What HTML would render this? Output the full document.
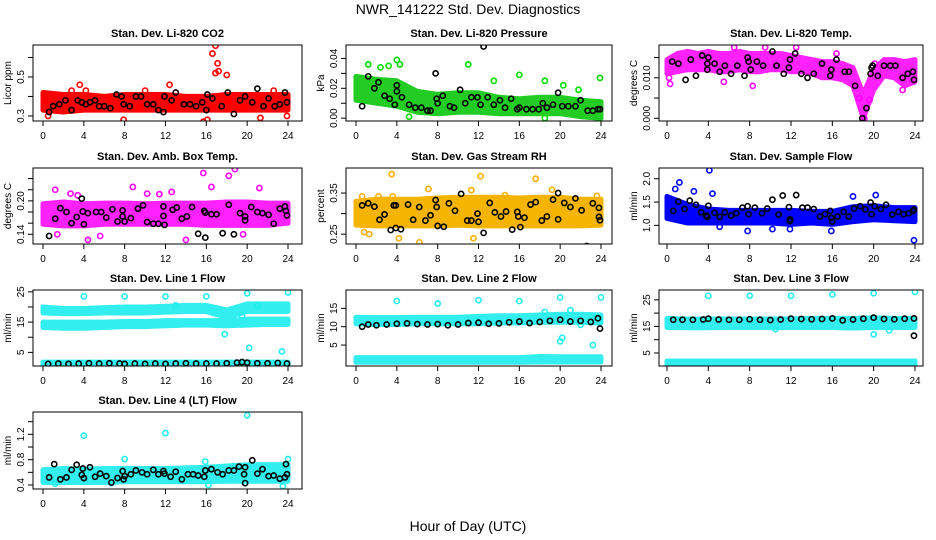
<!DOCTYPE html>
<html><head><meta charset="utf-8"><style>
body{margin:0;background:#fff}
svg{display:block;font-family:"Liberation Sans",sans-serif}
</style></head><body>
<svg id="c" width="936" height="540" viewBox="0 0 936 540">
<text x="468" y="14" text-anchor="middle" font-size="14">NWR_141222  Std. Dev. Diagnostics</text>
<text x="468" y="531" text-anchor="middle" font-size="14">Hour of Day (UTC)</text>
</svg>
<script>
// ---- data ----
const hours13=[0,2,4,6,8,10,12,14,16,18,20,22,24];
const hours25=[0,1,2,3,4,5,6,7,8,9,10,11,12,13,14,15,16,17,18,19,20,21,22,23,24];
const xTicks=[0,4,8,12,16,20,24];

const co2Lo=[0.33,0.32,0.33,0.33,0.33,0.33,0.33,0.33,0.33,0.33,0.33,0.33,0.33];
const co2Hi=[0.42,0.41,0.41,0.40,0.41,0.41,0.41,0.40,0.40,0.41,0.41,0.41,0.41];
const co2Out=[[16.6,0.62],[16.9,0.66],[17.1,0.57],[16.9,0.52],[17.2,0.53],[18,0.51],[3.6,0.46],[12.4,0.46],[4.2,0.43],[2.8,0.43],[15.7,0.27],[16.1,0.28],[7.9,0.28],[0.5,0.30],[21.3,0.29],[23.9,0.30],[22.6,0.43],[10,0.43]];
const co2Blk=[[0.6,0.32],[1,0.35],[1.6,0.36],[2.2,0.38],[2.8,0.33],[3.4,0.38],[3.8,0.37],[4.2,0.36],[4.6,0.37],[5.1,0.38],[5.5,0.35],[6,0.35],[6.6,0.34],[7.2,0.41],[7.7,0.40],[7.9,0.36],[8.5,0.35],[9.1,0.40],[9.6,0.40],[10.2,0.36],[10.8,0.36],[11.3,0.33],[11.8,0.32],[11.9,0.40],[12.6,0.38],[13,0.42],[13.8,0.36],[14.4,0.36],[15,0.35],[15.6,0.37],[16,0.33],[16.1,0.41],[16.6,0.39],[17.5,0.35],[18.1,0.42],[18.7,0.31],[19.3,0.38],[19.8,0.40],[20.5,0.37],[21,0.44],[21.6,0.35],[22.1,0.39],[22.7,0.35],[23.2,0.36],[23.7,0.42],[23.9,0.37]];

const presLo=[0.012,0.010,0.008,0.004,0.003,0.004,0.004,0.003,0.003,0.003,0.003,0.001,0.000];
const presHi=[0.028,0.026,0.025,0.018,0.016,0.017,0.017,0.014,0.013,0.014,0.014,0.012,0.011];
const presOut=[[1.2,0.036],[2.4,0.034],[3.2,0.035],[4,0.039],[4.3,0.036],[11,0.036],[16,0.029],[18.5,0.025],[23.9,0.027],[13.5,0.025],[20.3,0.022],[21.8,0.019],[18.5,0.000],[5.2,0.001]];
const presBlk=[[0.6,0.008],[1.2,0.028],[1.8,0.020],[2.2,0.024],[2.8,0.015],[3.3,0.013],[3.8,0.009],[4,0.022],[4,0.018],[4.5,0.014],[5.2,0.009],[5.8,0.007],[6.4,0.007],[7,0.005],[7.3,0.005],[7.8,0.030],[7.9,0.013],[8,0.010],[8.5,0.015],[9.2,0.008],[9.6,0.007],[10.2,0.019],[10.7,0.010],[11.3,0.014],[11.9,0.014],[12.2,0.009],[12.5,0.048],[12.9,0.014],[13.5,0.009],[14.1,0.012],[14.6,0.007],[15.2,0.013],[15.8,0.006],[16,0.007],[16.7,0.006],[17.3,0.006],[17.9,0.006],[18.3,0.010],[18.7,0.007],[19.3,0.009],[19.8,0.017],[20.2,0.008],[20.8,0.008],[21.5,0.008],[22,0.012],[22.7,0.005],[23.2,0.005],[23.7,0.006],[23.9,0.006]];

const tempHi=[0.0145,0.016,0.0165,0.016,0.0165,0.016,0.016,0.0165,0.016,0.016,0.016,0.016,0.0155,0.015,0.0145,0.014,0.014,0.0135,0.0125,0.006,0.012,0.0145,0.0145,0.014,0.0145];
const tempLo=[0.011,0.0115,0.012,0.012,0.012,0.0115,0.0115,0.012,0.0115,0.0115,0.012,0.012,0.0115,0.0115,0.011,0.010,0.010,0.0095,0.008,0.000,0.007,0.0105,0.010,0.008,0.009];
const tempOut=[[0.3,0.0085],[0.2,0.010],[5.5,0.009],[8.3,0.008],[6.5,0.0175],[9.5,0.0175],[12.5,0.0175],[16.4,0.016],[18.6,0.005],[19.1,0.000],[19.6,0.0045],[22.8,0.007],[20.1,0.0135]];
const tempBlk=[[0.5,0.014],[1.1,0.0135],[1.8,0.0095],[2.3,0.0145],[2.8,0.0105],[3.4,0.0155],[3.9,0.012],[3.9,0.0135],[4,0.0150],[4.6,0.0135],[5.1,0.0115],[5.6,0.013],[6.2,0.011],[6.8,0.013],[7.5,0.0105],[7.8,0.015],[7.9,0.014],[8.1,0.012],[8.7,0.014],[9.3,0.013],[10.2,0.0165],[10.6,0.013],[11.3,0.011],[11.8,0.0125],[11.9,0.0145],[12.4,0.016],[13,0.011],[13.6,0.010],[14.2,0.011],[15,0.0135],[15.8,0.0105],[15.9,0.012],[16.4,0.0145],[17.2,0.0115],[17.6,0.0115],[18.2,0.0080],[18.9,0.000],[19.3,0.0025],[19.7,0.011],[19.8,0.0125],[19.9,0.013],[20.4,0.0105],[21,0.013],[21.6,0.013],[22.1,0.013],[22.8,0.010],[23.3,0.011],[23.8,0.0115],[23.9,0.0095]];

const ambLo=[0.158,0.155,0.155,0.158,0.158,0.158,0.158,0.158,0.156,0.156,0.156,0.156,0.16];
const ambHi=[0.195,0.198,0.195,0.196,0.196,0.195,0.196,0.196,0.196,0.198,0.198,0.196,0.196];
const ambOut=[[1.2,0.22],[2.7,0.213],[3.4,0.21],[4.4,0.13],[5.6,0.137],[8.8,0.225],[12.6,0.216],[14,0.13],[15.7,0.25],[16.5,0.225],[18.2,0.245],[18.8,0.257],[21.2,0.223],[19.6,0.14],[10.2,0.213],[11.4,0.212],[1.4,0.14]];
const ambBlk=[[0.6,0.137],[1.2,0.168],[1.7,0.187],[2.3,0.180],[2.8,0.160],[3.3,0.171],[3.8,0.204],[3.9,0.181],[4.0,0.158],[4.4,0.178],[5.2,0.180],[5.7,0.180],[6.2,0.170],[6.8,0.185],[7.3,0.163],[7.8,0.183],[7.8,0.172],[8.0,0.163],[8.6,0.169],[9.3,0.186],[9.8,0.192],[10.2,0.162],[10.8,0.159],[11.3,0.159],[11.8,0.190],[11.8,0.173],[11.9,0.157],[12.7,0.184],[13.1,0.188],[13.6,0.168],[14.1,0.172],[14.6,0.189],[15.2,0.141],[15.8,0.182],[15.9,0.179],[15.9,0.134],[16.5,0.176],[17,0.176],[17.6,0.142],[18.2,0.193],[18.7,0.140],[19.3,0.178],[19.8,0.172],[19.8,0.165],[20.4,0.189],[21,0.180],[21.5,0.178],[22.1,0.175],[22.6,0.159],[23.2,0.186],[23.7,0.190],[23.8,0.182],[23.9,0.174]];

const rhLo=[0.272,0.27,0.27,0.27,0.27,0.272,0.27,0.27,0.27,0.27,0.27,0.27,0.272];
const rhHi=[0.33,0.335,0.335,0.335,0.338,0.34,0.34,0.34,0.338,0.34,0.34,0.335,0.335];
const rhOut=[[0.6,0.342],[2.2,0.342],[3.5,0.396],[3.6,0.342],[6.2,0.23],[7.1,0.36],[11.3,0.357],[12.2,0.391],[14.6,0.345],[17.6,0.385],[19.2,0.358],[11.5,0.24],[4.2,0.24],[0.8,0.255],[23.6,0.343],[1.3,0.25]];
const rhBlk=[[0.6,0.32],[1.2,0.325],[1.8,0.317],[2.3,0.285],[2.8,0.298],[3.4,0.26],[3.7,0.32],[3.9,0.32],[3.9,0.265],[4.4,0.262],[5.1,0.322],[5.6,0.285],[6.2,0.316],[6.8,0.283],[7.3,0.296],[7.8,0.333],[7.9,0.316],[8,0.27],[8.6,0.268],[9.1,0.325],[9.7,0.307],[10.3,0.348],[10.9,0.283],[11.3,0.283],[11.9,0.30],[12,0.28],[12.5,0.253],[13.1,0.326],[13.6,0.303],[14.2,0.293],[14.7,0.305],[15.3,0.261],[15.8,0.304],[15.9,0.293],[16.1,0.267],[16.5,0.29],[17.1,0.322],[17.6,0.328],[18.2,0.283],[18.7,0.293],[19.3,0.334],[19.8,0.35],[19.8,0.286],[20.4,0.326],[21,0.316],[21.5,0.337],[22.1,0.308],[22.6,0.221],[23.2,0.325],[23.8,0.314],[23.8,0.292],[23.9,0.284]];

const sfLo=[1.15,1.05,1.05,1.05,1.05,1.05,1.02,1.05,1.02,1.08,1.12,1.10,1.08];
const sfHi=[1.62,1.45,1.35,1.32,1.32,1.32,1.32,1.30,1.30,1.40,1.42,1.38,1.38];
const sfOut=[[0.8,1.78],[1.2,1.92],[2.6,1.73],[4.1,2.18],[4.4,1.68],[7.8,0.88],[11.9,0.92],[15.9,0.88],[20.2,1.65],[23.9,0.68],[5.1,0.97],[10.2,0.92],[18,1.62]];
const sfBlk=[[0.6,1.31],[1.1,1.51],[1.7,1.35],[2.2,1.53],[2.8,1.44],[3.3,1.28],[3.8,1.21],[3.9,1.18],[4,1.42],[4.6,1.27],[5.1,1.18],[5.6,1.28],[6.2,1.21],[6.7,1.26],[7.3,1.38],[7.8,1.41],[7.9,1.24],[8.5,1.38],[9.2,1.26],[9.7,1.36],[10.2,1.55],[10.8,1.23],[11.2,1.64],[11.8,1.39],[11.9,1.13],[11.9,1.09],[12.5,1.65],[13.1,1.38],[13.6,1.38],[14.2,1.35],[14.8,1.19],[15.3,1.24],[15.8,1.31],[15.9,1.16],[16,1.08],[16.5,1.19],[17.1,1.29],[17.6,1.19],[18.1,1.36],[18.7,1.41],[19.2,1.34],[19.7,1.49],[19.8,1.24],[20.1,1.41],[20.7,1.35],[21.2,1.44],[21.8,1.23],[22.4,1.29],[22.9,1.24],[23.4,1.26],[23.8,1.31],[23.9,1.34]];

const l1UpLo=[18,17.8,17.8,18,18,18,18.3,18.5,18.5,16.5,18.5,18.5,18.5];
const l1UpHi=[20,19.5,19.5,19.8,20,20,20.2,20.5,20.5,19,21,21,21];
const l1MidLo=[13.2,13,13,13.2,13.5,13.5,13.8,14,14,13.8,14,14.2,14.2];
const l1MidHi=[15,15,15,15,15.2,15.2,15.5,15.5,15.5,15.5,16,16,16];
const l1BotLo=[0.6,0.6,0.6,0.6,0.6,0.6,0.6,0.6,0.6,0.6,0.6,0.6,0.6];
const l1BotHi=[1.8,1.8,1.8,1.8,1.8,1.8,1.8,1.8,1.8,1.8,1.8,1.8,1.8];
const l1Out=[[4,23.5],[8,23.5],[12,23.5],[16,23.5],[20,24.5],[24,24.8],[17.8,11],[20.2,6.5],[23.4,5.3],[19.5,17],[13,20.5],[21,20.5]];
const l1Blk=[[0.5,1.2],[1.5,1.3],[2.5,1.2],[3.5,1.3],[4.5,1.4],[5.5,1.3],[6.5,1.4],[7.5,1.3],[8,1.2],[9,1.3],[10,1.2],[11,1.3],[12,1.2],[13,1.3],[14,1.4],[15,1.3],[16,1.3],[17,1.3],[18,1.4],[19,1.6],[19.5,1.8],[20,1.6],[21,1.4],[22,1.4],[23,1.5],[23.9,1.3]];

const l2UpLo=[10.8,10.6,10.6,10.8,10.8,10.8,10.8,11,11,11.2,11.2,11.2,11];
const l2UpHi=[12.6,12.5,12.5,12.6,12.6,12.6,12.8,13,13,13.2,13.4,13.4,13.2];
const l2BotLo=[0.3,0.3,0.3,0.3,0.3,0.3,0.3,0.3,0.3,0.4,0.4,0.4,0.4];
const l2BotHi=[1.6,1.6,1.6,1.6,1.6,1.6,1.6,1.6,1.6,1.9,1.8,1.8,1.8];
const l2Out=[[4,17],[8,16.3],[12,17.2],[16,17],[20,18],[24,18],[20,6],[20.2,7],[23.2,5],[18.5,14],[21,14.5],[22,10.5]];
const l2Blk=[[0.6,10],[1.2,10.6],[2,10.4],[3,10.6],[4,10.8],[5,10.9],[6,10.7],[7,10.6],[8,10.7],[9,10.4],[10,10.6],[11,11],[12,11.1],[13,10.8],[14,10.9],[15,11.2],[16,11.4],[17,11],[18,11.3],[19,11.6],[20,11.9],[21,11.4],[22,11.6],[23,11.3],[23.7,12.3],[23.9,9.5]];

const l3UpLo=[14.6,14.5,14.5,14.6,14.6,14.6,14.6,14.6,14.6,14.4,14.6,14.6,14.6];
const l3UpHi=[18,17.8,17.8,17.8,17.8,17.8,17.8,18,18,18,18.2,18,18];
const l3BotLo=[0.5,0.5,0.5,0.5,0.5,0.5,0.5,0.5,0.5,0.5,0.5,0.5,0.5];
const l3BotHi=[2,2,2,2,2,2,2,2,2,2,2,2,2];
const l3Out=[[4,26.5],[8,26.5],[12,26.5],[16,27],[20,27.5],[24,28],[20,12],[21.5,13.5],[10.5,14]];
const l3Blk=[[0.6,17.5],[1.5,17.5],[2.5,17.5],[3.5,17.6],[4,17.9],[5,17.6],[6,17.5],[7,17.5],[8,17.7],[9,17.5],[10,17.4],[11,17.6],[12,17.9],[13,17.8],[14,17.7],[15,17.8],[16,18],[17,17.3],[18,17.6],[19,17.9],[20,18.3],[21,17.8],[22,17.7],[23,17.9],[23.9,18],[23.9,11.5]];

const l4Lo=[0.44,0.44,0.44,0.44,0.45,0.45,0.45,0.45,0.45,0.46,0.46,0.46,0.46];
const l4Hi=[0.64,0.66,0.65,0.66,0.66,0.66,0.66,0.67,0.68,0.70,0.72,0.72,0.72];
const l4Out=[[4,1.18],[12,1.22],[20,1.5],[8,0.81],[24,0.81],[15.9,0.77],[16.2,0.40],[23.5,0.38],[19.8,0.43],[1.2,0.42],[6.7,0.43]];
const l4Blk=[[0.6,0.52],[1.1,0.73],[1.7,0.49],[2.3,0.52],[2.8,0.64],[3.3,0.72],[3.8,0.56],[3.9,0.66],[4,0.51],[4.6,0.68],[5.1,0.53],[5.6,0.58],[6.2,0.54],[6.7,0.44],[7.3,0.51],[7.8,0.62],[7.9,0.49],[8,0.54],[8.6,0.57],[9.1,0.63],[9.7,0.60],[10.2,0.57],[10.8,0.64],[11.3,0.57],[11.8,0.62],[11.9,0.58],[12.5,0.53],[13,0.61],[13.6,0.49],[14.2,0.57],[14.7,0.57],[15.2,0.55],[15.8,0.53],[15.9,0.63],[16.5,0.65],[17.1,0.60],[17.6,0.57],[18.2,0.63],[18.7,0.63],[19.2,0.69],[19.7,0.57],[19.8,0.68],[19.8,0.43],[20.5,0.79],[21,0.58],[21.5,0.65],[22.1,0.54],[22.6,0.55],[23.2,0.50],[23.7,0.52],[23.8,0.73],[23.9,0.57]];

// ---- layout ----
const NS='http://www.w3.org/2000/svg';
const svg=document.getElementById('c');
const cols=[{l:33,r:302,x0:43,x24:288},{l:346,r:612,x0:356,x24:601},{l:659,r:923,x0:667,x24:915}];
const rows=[{t:45,b:121},{t:168,b:244},{t:290,b:366},{t:412,b:489}];
function mk(tag,attrs,parent){const e=document.createElementNS(NS,tag);for(const k in attrs)e.setAttribute(k,attrs[k]);(parent||svg).appendChild(e);return e;}

function panel(o){
  const c=cols[o.col], r=rows[o.row];
  const g=mk('g',{});
  
  
  const xs=t=>c.x0+(t/24)*(c.x24-c.x0);
  const ys=v=>r.b-(v-o.ymin)/(o.ymax-o.ymin)*(r.b-r.t);
  const clip='cl'+o.name;
  const cp=mk('clipPath',{id:clip},g);mk('rect',{x:c.l,y:r.t,width:c.r-c.l,height:r.b-r.t},cp);
  const pg=mk('g',{'clip-path':'url(#'+clip+')'},g);
  (o.bands||[]).forEach(b=>{
    let pts=[];
    b.t.forEach((t,i)=>pts.push(xs(t).toFixed(1)+','+ys(b.hi[i]).toFixed(1)));
    for(let i=b.t.length-1;i>=0;i--)pts.push(xs(b.t[i]).toFixed(1)+','+ys(b.lo[i]).toFixed(1));
    const p=mk('polygon',{points:pts.join(' '),fill:o.fill,stroke:o.fill,'stroke-width':5,'stroke-linejoin':'round'},pg);
    
    
  });
  o.out.forEach(d=>{const e=mk('circle',{cx:xs(d[0]),cy:ys(d[1]),r:2.6,fill:'none',stroke:o.color,'stroke-width':1.6},pg);
    
    });
  o.blk.forEach(d=>{const e=mk('circle',{cx:xs(d[0]),cy:ys(d[1]),r:2.6,fill:'none',stroke:'#000','stroke-width':1.6},pg);
    
    });
  mk('rect',{x:c.l,y:r.t,width:c.r-c.l,height:r.b-r.t,fill:'none',stroke:'#000','stroke-width':1},g);
  // x axis
  xTicks.forEach(t=>{mk('line',{x1:xs(t),x2:xs(t),y1:r.b,y2:r.b+5,stroke:'#000'},g);
    const tx=mk('text',{x:xs(t),y:r.b+18,'text-anchor':'middle','font-size':10},g);tx.textContent=t;});
  // y axis
  o.yt.forEach(v=>{mk('line',{x1:c.l-5,x2:c.l,y1:ys(v),y2:ys(v),stroke:'#000'},g);});
  o.yl.forEach(v=>{const yy=ys(v);const tx=mk('text',{x:c.l-9,y:yy,'text-anchor':'middle','font-size':10,transform:'rotate(-90 '+(c.l-9)+' '+yy+')'},g);tx.textContent=v;});
  const yx=c.l-22, ym=(r.t+r.b)/2;
  const yt=mk('text',{x:yx,y:ym,'text-anchor':'middle','font-size':10,transform:'rotate(-90 '+yx+' '+ym+')'},g);yt.textContent=o.ylab;
  const tt=mk('text',{x:(c.l+c.r)/2,y:r.t-8,'text-anchor':'middle','font-size':11,'font-weight':'bold'},g);tt.textContent=o.title;
}

panel({name:'panel-co2',col:0,row:0,ymin:0.274,ymax:0.664,title:'Stan. Dev. Li-820 CO2',ylab:'Licor ppm',color:'#ff0000',fill:'#ff0000',
  yt:[0.3,0.4,0.5,0.6],yl:['0.3','0.5'],bands:[{t:hours13,lo:co2Lo,hi:co2Hi}],out:co2Out,blk:co2Blk});
panel({name:'panel-pressure',col:1,row:0,ymin:-0.0019,ymax:0.049,title:'Stan. Dev. Li-820 Pressure',ylab:'kPa',color:'#00dd00',fill:'#22cc22',
  yt:[0,0.01,0.02,0.03,0.04],yl:['0.00','0.02','0.04'],bands:[{t:hours13,lo:presLo,hi:presHi}],out:presOut,blk:presBlk});
panel({name:'panel-temp',col:2,row:0,ymin:-0.00067,ymax:0.0181,title:'Stan. Dev. Li-820 Temp.',ylab:'degrees C',color:'#ff00ff',fill:'#ff22ff',
  yt:[0,0.005,0.01,0.015],yl:['0.000','0.010'],bands:[{t:hours25,lo:tempLo,hi:tempHi}],out:tempOut,blk:tempBlk});
panel({name:'panel-amb-box-temp',col:0,row:1,ymin:0.1226,ymax:0.259,title:'Stan. Dev. Amb. Box Temp.',ylab:'degrees C',color:'#ff00ff',fill:'#ff22ff',
  yt:[0.14,0.16,0.18,0.20,0.22,0.24],yl:['0.14','0.20'],bands:[{t:hours13,lo:ambLo,hi:ambHi}],out:ambOut,blk:ambBlk});
panel({name:'panel-gas-rh',col:1,row:1,ymin:0.226,ymax:0.411,title:'Stan. Dev. Gas Stream RH',ylab:'percent',color:'#ffb000',fill:'#f4b400',
  yt:[0.25,0.30,0.35],yl:['0.25','0.35'],bands:[{t:hours13,lo:rhLo,hi:rhHi}],out:rhOut,blk:rhBlk});
panel({name:'panel-sample-flow',col:2,row:1,ymin:0.6,ymax:2.23,title:'Stan. Dev. Sample Flow',ylab:'ml/min',color:'#0000ff',fill:'#0000ff',
  yt:[1.0,1.5,2.0],yl:['1.0','1.5','2.0'],bands:[{t:hours13,lo:sfLo,hi:sfHi}],out:sfOut,blk:sfBlk});
panel({name:'panel-line1-flow',col:0,row:2,ymin:0.5,ymax:25.6,title:'Stan. Dev. Line 1 Flow',ylab:'ml/min',color:'#22eeee',fill:'#33eeee',
  yt:[5,10,15,20,25],yl:['5','15','25'],bands:[{t:hours13,lo:l1UpLo,hi:l1UpHi},{t:hours13,lo:l1MidLo,hi:l1MidHi},{t:hours13,lo:l1BotLo,hi:l1BotHi}],out:l1Out,blk:l1Blk});
panel({name:'panel-line2-flow',col:1,row:2,ymin:-0.7,ymax:20,title:'Stan. Dev. Line 2 Flow',ylab:'ml/min',color:'#22eeee',fill:'#33eeee',
  yt:[5,10,15],yl:['5','10','15'],bands:[{t:hours13,lo:l2UpLo,hi:l2UpHi},{t:hours13,lo:l2BotLo,hi:l2BotHi}],out:l2Out,blk:l2Blk});
panel({name:'panel-line3-flow',col:2,row:2,ymin:0.1,ymax:28.7,title:'Stan. Dev. Line 3 Flow',ylab:'ml/min',color:'#22eeee',fill:'#33eeee',
  yt:[5,10,15,20,25],yl:['5','15','25'],bands:[{t:hours13,lo:l3UpLo,hi:l3UpHi},{t:hours13,lo:l3BotLo,hi:l3BotHi}],out:l3Out,blk:l3Blk});
panel({name:'panel-line4-flow',col:0,row:3,ymin:0.337,ymax:1.553,title:'Stan. Dev. Line 4 (LT) Flow',ylab:'ml/min',color:'#22eeee',fill:'#33eeee',
  yt:[0.4,0.6,0.8,1.0,1.2,1.4],yl:['0.4','0.8','1.2'],bands:[{t:hours13,lo:l4Lo,hi:l4Hi}],out:l4Out,blk:l4Blk});
</script>
</body></html>
